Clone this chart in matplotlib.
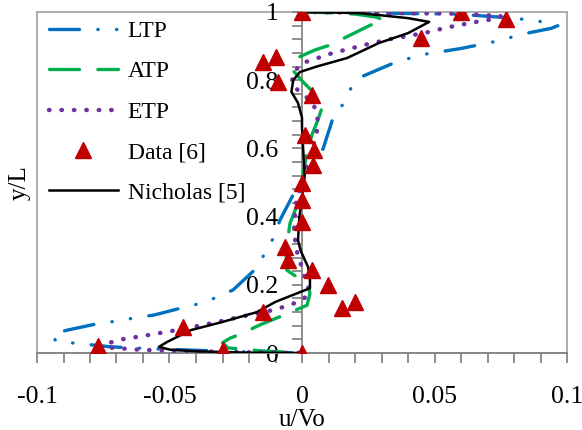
import matplotlib
matplotlib.use("Agg")
import matplotlib.pyplot as plt
from matplotlib.ticker import MultipleLocator, FuncFormatter
from matplotlib.patches import Rectangle

plt.rcParams['font.family'] = ['Liberation Serif', 'DejaVu Serif']
plt.rcParams['axes.unicode_minus'] = False

# LTP profile
ltp_u = [0, 0.03, 0.06, 0.08, 0.09, 0.0966, 0.094, 0.085, 0.072, 0.06, 0.047, 0.036,
         0.023, 0.0185, 0.0155, 0.0117, 0.008, 0.002, -0.003, -0.0083, -0.0106, -0.014,
         -0.017, -0.026, -0.032, -0.038, -0.044, -0.056, -0.062, -0.069, -0.076, -0.088,
         -0.094, -0.093, -0.086, -0.072, -0.055, -0.04, -0.02, 0]
ltp_y = [1.0, 0.997, 0.993, 0.982, 0.972, 0.960, 0.952, 0.938, 0.912, 0.893, 0.877, 0.855,
         0.812, 0.777, 0.73, 0.689, 0.60, 0.52, 0.469, 0.39, 0.34, 0.293,
         0.25, 0.185, 0.164, 0.146, 0.135, 0.111, 0.105, 0.094, 0.088, 0.068,
         0.057, 0.035, 0.029, 0.018, 0.012, 0.008, 0.003, 0]

# ATP profile
atp_u = [0, 0.01, 0.02, 0.028, 0.031, 0.026, 0.022, 0.0106, 0.005, -0.002, -0.0035, -0.003,
         0.0004, 0.0055, 0.0075, 0.006, 0.004, 0.0019, 0, -0.002, -0.0045, -0.0053, -0.006,
         -0.0057, 0.0023, 0.003, 0.0019, -0.0094, -0.016, -0.023, -0.027, -0.03, -0.028,
         -0.015, 0]
atp_y = [1.0, 0.998, 0.994, 0.985, 0.976, 0.962, 0.947, 0.903, 0.889, 0.865, 0.845, 0.825,
         0.795, 0.755, 0.718, 0.683, 0.645, 0.595, 0.5, 0.43, 0.381, 0.34, 0.29,
         0.243, 0.2, 0.175, 0.14, 0.103, 0.082, 0.056, 0.044, 0.03, 0.015,
         0.006, 0]

# ETP profile
etp_u = [0, 0.03, 0.06, 0.075, 0.0736, 0.065, 0.055, 0.046, 0.033, 0.025, 0.0117, 0.004,
         0, -0.003, -0.004, -0.0008, 0.0038, 0.0055, 0.006, 0.0055, 0.004, 0.002, 0,
         -0.002, -0.0026, -0.003, -0.002, 0.0004, 0.003, 0, -0.0045, -0.0083, -0.015,
         -0.0234, -0.0336, -0.042, -0.051, -0.06, -0.068, -0.0736, -0.073, -0.06, -0.04,
         -0.02, 0]
etp_y = [1.0, 0.997, 0.995, 0.988, 0.981, 0.97, 0.955, 0.938, 0.92, 0.906, 0.88, 0.86,
         0.85, 0.824, 0.79, 0.765, 0.737, 0.707, 0.674, 0.645, 0.6, 0.55, 0.5,
         0.45, 0.42, 0.355, 0.3, 0.238, 0.176, 0.155, 0.141, 0.132, 0.118,
         0.106, 0.088, 0.075, 0.062, 0.05, 0.04, 0.028, 0.016, 0.009, 0.005,
         0.002, 0]

# Data [6]
data_u = [0, 0.06, 0.077, 0.045, -0.0147, -0.0098, -0.009, 0.0038, 0.001, 0.0045, 0.004,
          0, 0, 0, -0.0064, -0.0053, 0.0038, 0.0098, 0.015, 0.020, 0, -0.0147, -0.045,
          -0.077, -0.030]
data_y = [1.0, 1.0, 0.98, 0.924, 0.853, 0.868, 0.795, 0.757, 0.64, 0.595, 0.551,
          0.50, 0.449, 0.385, 0.311, 0.273, 0.243, 0.199, 0.132, 0.150, 0, 0.12, 0.076,
          0.02, 0.009]

# Nicholas [5]
nic_u = [0, 0.021, 0.029, 0.04, 0.048, 0.040, 0.029, 0.017, 0.0055, -0.0008, -0.0033,
         -0.004, -0.0015, 0, 0, 0.001, 0, -0.001, -0.0015, -0.0005, 0.0023, 0.003, 0.003,
         -0.01, -0.017, -0.03, -0.042, -0.051, -0.054, -0.05, -0.04, -0.02, 0]
nic_y = [1.0, 0.997, 0.991, 0.982, 0.971, 0.938, 0.909, 0.865, 0.84, 0.824, 0.80,
         0.766, 0.733, 0.69, 0.66, 0.52, 0.45, 0.40, 0.33, 0.30, 0.252, 0.214, 0.19,
         0.15, 0.12, 0.091, 0.067, 0.032, 0.018, 0.01, 0.005, 0.001, 0]

fig = plt.figure(figsize=(5.82, 4.30), dpi=100)
ax = fig.add_axes([37/582, 1-353/430, 530/582, 341/430])

ax.plot(ltp_u, ltp_y, color='#0070C0', lw=2.4, dash_capstyle='round',
        linestyle=(0, (9.0, 5.5, 0.1, 5.5, 0.1, 5.5)), label='LTP', zorder=2)
ax.plot(atp_u, atp_y, color='#00B050', lw=2.4, dash_capstyle='round',
        linestyle=(0, (9.0, 5.5)), label='ATP', zorder=3)
ax.plot(etp_u, etp_y, color='#7030A0', lw=3.2, dash_capstyle='round',
        linestyle=(0, (0.1, 2.7)), label='ETP', zorder=4)
ax.plot(data_u, data_y, linestyle='none', marker='^', markersize=12,
        color='#C00000', label='Data [6]', zorder=6)
ax.plot(nic_u, nic_y, color='black', lw=1.8, label='Nicholas [5]', zorder=5)

ax.set_xlim(-0.1, 0.1)
ax.set_ylim(0, 1)

axis_col = '#868686'
for s in ['top', 'right']:
    ax.spines[s].set_visible(False)
ax.spines['left'].set_position(('data', 0))
ax.spines['left'].set_color(axis_col)
ax.spines['bottom'].set_color(axis_col)
ax.spines['left'].set_linewidth(1.3)
ax.spines['bottom'].set_linewidth(1.3)
ax.add_patch(Rectangle((0, 0), 1, 1, transform=ax.transAxes, fill=False,
                       edgecolor='#A6A6A6', lw=1.3, zorder=0, clip_on=False))

fmt = FuncFormatter(lambda v, p: f"{v:g}")
ax.xaxis.set_major_locator(MultipleLocator(0.05))
ax.xaxis.set_minor_locator(MultipleLocator(0.01))
ax.yaxis.set_major_locator(MultipleLocator(0.2))
ax.yaxis.set_minor_locator(MultipleLocator(0.04))
ax.xaxis.set_major_formatter(fmt)
ax.yaxis.set_major_formatter(fmt)
ax.tick_params(which='both', direction='out', length=7, width=1.3, color=axis_col,
               labelsize=18.5)
ax.tick_params(axis='x', which='major', pad=17)
ax.tick_params(axis='y', which='major', pad=10)

ax.set_xlabel('u/Vo', fontsize=18)
ax.set_ylabel('y/L', fontsize=18)
ax.xaxis.set_label_coords(0.5, -0.163)
ax.yaxis.set_label_coords(-0.012, 0.5)

ax.legend(loc='upper left', bbox_to_anchor=(0.022, 0.975), frameon=False,
          fontsize=17, handlelength=2.95, handletextpad=0.4, labelspacing=0.8,
          borderpad=0, borderaxespad=0, numpoints=1)

fig.savefig('out.png', dpi=100)
